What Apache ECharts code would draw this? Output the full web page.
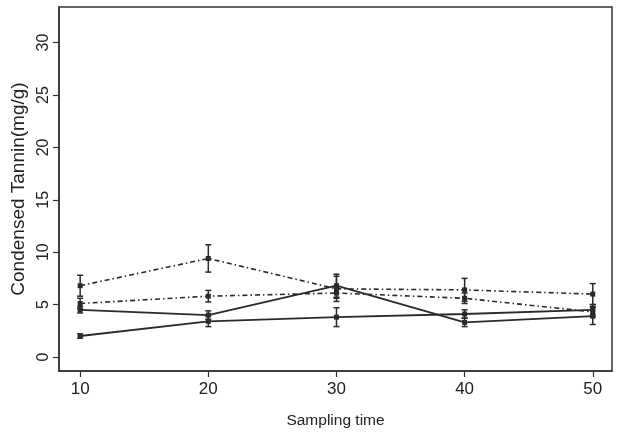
<!DOCTYPE html>
<html>
<head>
<meta charset="utf-8">
<style>html,body{margin:0;padding:0;background:#fff;}#c{width:622px;height:437px;}</style>
<script src="https://cdn.jsdelivr.net/npm/echarts@6/dist/echarts.min.js"></script>
</head>
<body>
<div id="c"></div>
<script>
var times = [10, 20, 30, 40, 50];
var xTicks = [10, 20, 30, 40, 50];
var yTicks = [0, 5, 10, 15, 20, 25, 30];

var seriesC = [6.8, 9.4, 6.5, 6.4, 6.0];
var errC    = [1.0, 1.3, 1.2, 1.1, 1.0];
var seriesD = [5.1, 5.8, 6.1, 5.6, 4.3];
var errD    = [0.5, 0.55, 0.5, 0.5, 0.5];
var seriesA = [4.5, 4.0, 6.8, 3.3, 3.9];
var errA    = [0.3, 0.4, 1.1, 0.4, 0.8];
var seriesB = [2.0, 3.4, 3.8, 4.1, 4.5];
var errB    = [0.2, 0.5, 0.9, 0.4, 0.5];

var chart = echarts.init(document.getElementById('c'), null, {renderer: 'canvas'});
var ink = '#2a2a2a';
var narrow = '"Liberation Sans Narrow", "Arial Narrow", "Liberation Sans", Arial';

function lineSeries(vals, dashed) {
  return {
    type: 'line',
    data: times.map(function (t, i) { return [t, vals[i]]; }),
    symbol: 'rect',
    symbolSize: 5,
    itemStyle: {color: ink},
    lineStyle: {color: ink, width: dashed ? 1.6 : 1.8, type: dashed ? [5, 3, 1.5, 3] : 'solid'},
    z: 3,
    animation: false
  };
}
function errSeries(vals, errs) {
  return {
    type: 'custom',
    data: times.map(function (t, i) { return [t, vals[i] - errs[i], vals[i] + errs[i]]; }),
    renderItem: function (params, api) {
      var lo = api.coord([api.value(0), api.value(1)]);
      var hi = api.coord([api.value(0), api.value(2)]);
      var w = 3;
      var st = {stroke: ink, lineWidth: 1.5};
      return {
        type: 'group',
        children: [
          {type: 'line', shape: {x1: lo[0], y1: lo[1], x2: hi[0], y2: hi[1]}, style: st},
          {type: 'line', shape: {x1: lo[0] - w, y1: lo[1], x2: lo[0] + w, y2: lo[1]}, style: st},
          {type: 'line', shape: {x1: hi[0] - w, y1: hi[1], x2: hi[0] + w, y2: hi[1]}, style: st}
        ]
      };
    },
    z: 2,
    animation: false
  };
}

chart.setOption({
  animation: false,
  backgroundColor: '#fff',
  grid: {left: 59, right: 10, top: 7, bottom: 66, show: true, borderColor: '#333', borderWidth: 1.5, backgroundColor: '#fff'},
  xAxis: {
    type: 'value', min: 8.35, max: 51.5,
    name: 'Sampling time', nameLocation: 'middle', nameGap: 42,
    nameTextStyle: {fontFamily: narrow, fontSize: 15.5, color: '#222'},
    axisLine: {show: true, onZero: false, lineStyle: {color: '#333', width: 1.5}},
    axisTick: {show: true, length: 6, customValues: xTicks, lineStyle: {color: '#333', width: 1.2}},
    axisLabel: {customValues: xTicks, margin: 10, fontFamily: narrow, fontSize: 17, color: '#222'},
    splitLine: {show: false}
  },
  yAxis: {
    type: 'value', min: -1.34, max: 33.4,
    name: 'Condensed Tannin(mg/g)', nameLocation: 'middle', nameGap: 26,
    nameTextStyle: {fontFamily: '"Liberation Sans", Arial', fontSize: 19, color: '#222'},
    axisLine: {show: true, onZero: false, lineStyle: {color: '#333', width: 1.5}},
    axisTick: {show: true, length: 6, customValues: yTicks, lineStyle: {color: '#333', width: 1.2}},
    axisLabel: {customValues: yTicks, rotate: 90, margin: 7, fontFamily: '"Liberation Sans", Arial', fontSize: 16, color: '#222'},
    splitLine: {show: false}
  },
  series: [
    lineSeries(seriesC, true), errSeries(seriesC, errC),
    lineSeries(seriesD, true), errSeries(seriesD, errD),
    lineSeries(seriesA, false), errSeries(seriesA, errA),
    lineSeries(seriesB, false), errSeries(seriesB, errB)
  ]
});
</script>
</body>
</html>
